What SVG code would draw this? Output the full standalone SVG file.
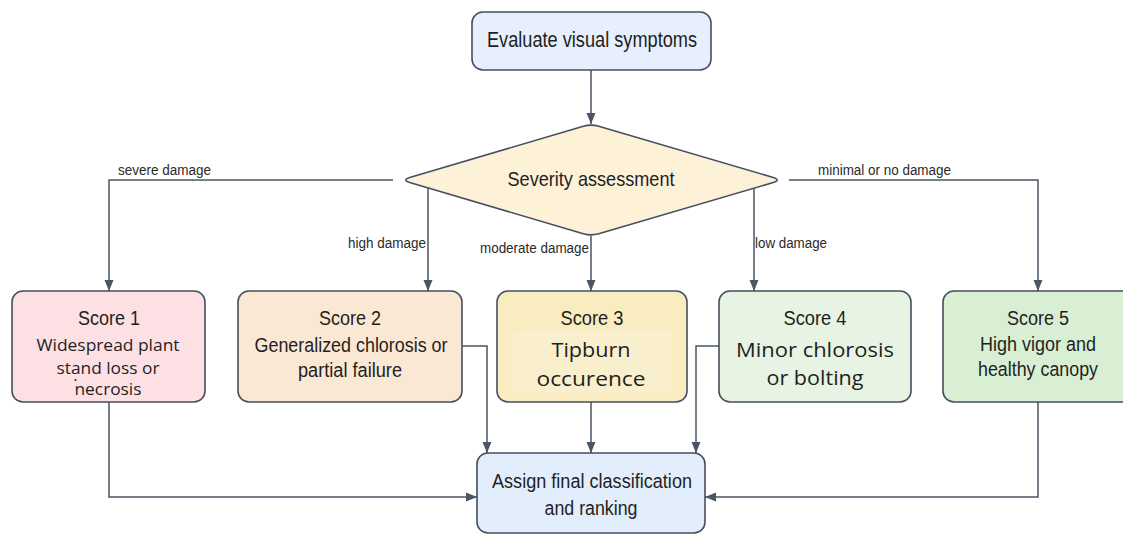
<svg xmlns="http://www.w3.org/2000/svg" width="1123" height="535" viewBox="0 0 1123 535">
  <defs>
    <marker id="arrow" markerUnits="userSpaceOnUse" markerWidth="12" markerHeight="12" viewBox="0 0 12 12" refX="11" refY="6" orient="auto">
      <path d="M0,1.5 L11,6 L0,10.5 Z" fill="#4b5565"/>
    </marker>
    <style>
      .box { stroke: #454f5e; stroke-width: 1.6; }
      .edge { fill: none; stroke: #4b5565; stroke-width: 1.5; }
      .arr { marker-end: url(#arrow); }
      .narrow { font-family: "Liberation Sans Narrow", "Liberation Sans", Arial, sans-serif; fill: #1f1f1f; text-anchor: middle; }
      .wide { font-family: "Open Sans", "Noto Sans", "Liberation Sans", sans-serif; fill: #1f1f1f; text-anchor: middle; }
      .lbl { font-family: "Liberation Sans Narrow", "Liberation Sans", Arial, sans-serif; fill: #2a2a2a; font-size: 14px; }
    </style>
  </defs>

  <rect width="1123" height="535" fill="#ffffff"/>

  <!-- connectors -->
  <g id="connectors">
    <path class="edge arr" d="M591,70 V124"/>
    <!-- severe damage -->
    <path class="edge arr" d="M393,180 H109 V291"/>
    <!-- high damage -->
    <path class="edge arr" d="M428,188 V291"/>
    <!-- moderate damage -->
    <path class="edge arr" d="M591,236 V291"/>
    <!-- low damage -->
    <path class="edge arr" d="M754,188 V291"/>
    <!-- minimal or no damage -->
    <path class="edge arr" d="M789,180 H1038 V291"/>
    <!-- scores into final classification -->
    <path class="edge arr" d="M109,402 V497 H477"/>
    <path class="edge arr" d="M462,346 H487 V453"/>
    <path class="edge arr" d="M591,402 V453"/>
    <path class="edge arr" d="M719,346 H696 V453"/>
    <path class="edge arr" d="M1038,402 V497 H705"/>

    <text class="lbl" x="118" y="175" textLength="93" lengthAdjust="spacingAndGlyphs">severe damage</text>
    <text class="lbl" x="348" y="248" textLength="78" lengthAdjust="spacingAndGlyphs">high damage</text>
    <text class="lbl" x="480" y="253" textLength="109" lengthAdjust="spacingAndGlyphs">moderate damage</text>
    <text class="lbl" x="755" y="248" textLength="72" lengthAdjust="spacingAndGlyphs">low damage</text>
    <text class="lbl" x="818" y="175" textLength="133" lengthAdjust="spacingAndGlyphs">minimal or no damage</text>
  </g>

  <!-- start -->
  <g id="evaluate">
    <rect class="box" x="472" y="12" width="239" height="58" rx="11" fill="#e6effb"/>
    <text class="narrow" x="592" y="47" font-size="22" textLength="210" lengthAdjust="spacingAndGlyphs">Evaluate visual symptoms</text>
  </g>

  <!-- decision -->
  <g id="severity">
    <path class="box" fill="#fdf1d8" d="M583.3,126.3 Q591,124 598.7,126.2 L772.4,177.2 Q782,180 772.4,182.8 L598.7,233.8 Q591,236 583.3,233.7 L410.6,182.8 Q401,180 410.6,177.2 Z"/>
    <text class="narrow" x="591" y="186" font-size="21" textLength="167" lengthAdjust="spacingAndGlyphs">Severity assessment</text>
  </g>

  <g id="score1">
    <rect class="box" x="12" y="291" width="193" height="111" rx="11" fill="#fde0e3"/>
    <text class="narrow" x="109" y="325" font-size="20" textLength="62" lengthAdjust="spacingAndGlyphs">Score 1</text>
    <text class="wide" x="108" y="351" font-size="16" textLength="143" lengthAdjust="spacingAndGlyphs">Widespread plant</text>
    <text class="wide" x="108" y="374" font-size="16" textLength="103" lengthAdjust="spacingAndGlyphs">stand loss or</text>
    <circle cx="75.5" cy="380" r="1" fill="#1f1f1f"/>
    <text class="wide" x="108" y="395" font-size="16" textLength="67" lengthAdjust="spacingAndGlyphs">necrosis</text>
  </g>

  <g id="score2">
    <rect class="box" x="238" y="291" width="224" height="111" rx="11" fill="#fbe8d4"/>
    <text class="narrow" x="350" y="325" font-size="20" textLength="62" lengthAdjust="spacingAndGlyphs">Score 2</text>
    <text class="narrow" x="351" y="352" font-size="20" textLength="193" lengthAdjust="spacingAndGlyphs">Generalized chlorosis or</text>
    <text class="narrow" x="350" y="377" font-size="20" textLength="104" lengthAdjust="spacingAndGlyphs">partial failure</text>
  </g>

  <g id="score3">
    <rect class="box" x="497" y="291" width="190" height="111" rx="11" fill="#f8ecc0"/>
    <rect x="513" y="330" width="159" height="63" fill="#f9efcd"/>
    <text class="narrow" x="592" y="325" font-size="20" textLength="63" lengthAdjust="spacingAndGlyphs">Score 3</text>
    <text class="wide" x="591" y="357" font-size="20" textLength="79" lengthAdjust="spacingAndGlyphs">Tipburn</text>
    <text class="wide" x="591" y="386" font-size="20" textLength="109" lengthAdjust="spacingAndGlyphs">occurence</text>
  </g>

  <g id="score4">
    <rect class="box" x="719" y="291" width="192" height="111" rx="11" fill="#e7f4e3"/>
    <text class="narrow" x="815" y="325" font-size="20" textLength="63" lengthAdjust="spacingAndGlyphs">Score 4</text>
    <text class="wide" x="815" y="357" font-size="20" textLength="158" lengthAdjust="spacingAndGlyphs">Minor chlorosis</text>
    <text class="wide" x="815" y="385" font-size="20" textLength="97" lengthAdjust="spacingAndGlyphs">or bolting</text>
  </g>

  <g id="score5">
    <rect class="box" x="943" y="291" width="190" height="111" rx="11" fill="#d9efd3"/>
    <text class="narrow" x="1038" y="325" font-size="20" textLength="62" lengthAdjust="spacingAndGlyphs">Score 5</text>
    <text class="narrow" x="1038" y="351" font-size="20" textLength="116" lengthAdjust="spacingAndGlyphs">High vigor and</text>
    <text class="narrow" x="1038" y="376" font-size="20" textLength="120" lengthAdjust="spacingAndGlyphs">healthy canopy</text>
  </g>

  <g id="final">
    <rect class="box" x="477" y="453" width="228" height="80" rx="11" fill="#e3eefc"/>
    <text class="narrow" x="592" y="488" font-size="20" textLength="200" lengthAdjust="spacingAndGlyphs">Assign final classification</text>
    <text class="narrow" x="591" y="515" font-size="20" textLength="93" lengthAdjust="spacingAndGlyphs">and ranking</text>
  </g>
</svg>
